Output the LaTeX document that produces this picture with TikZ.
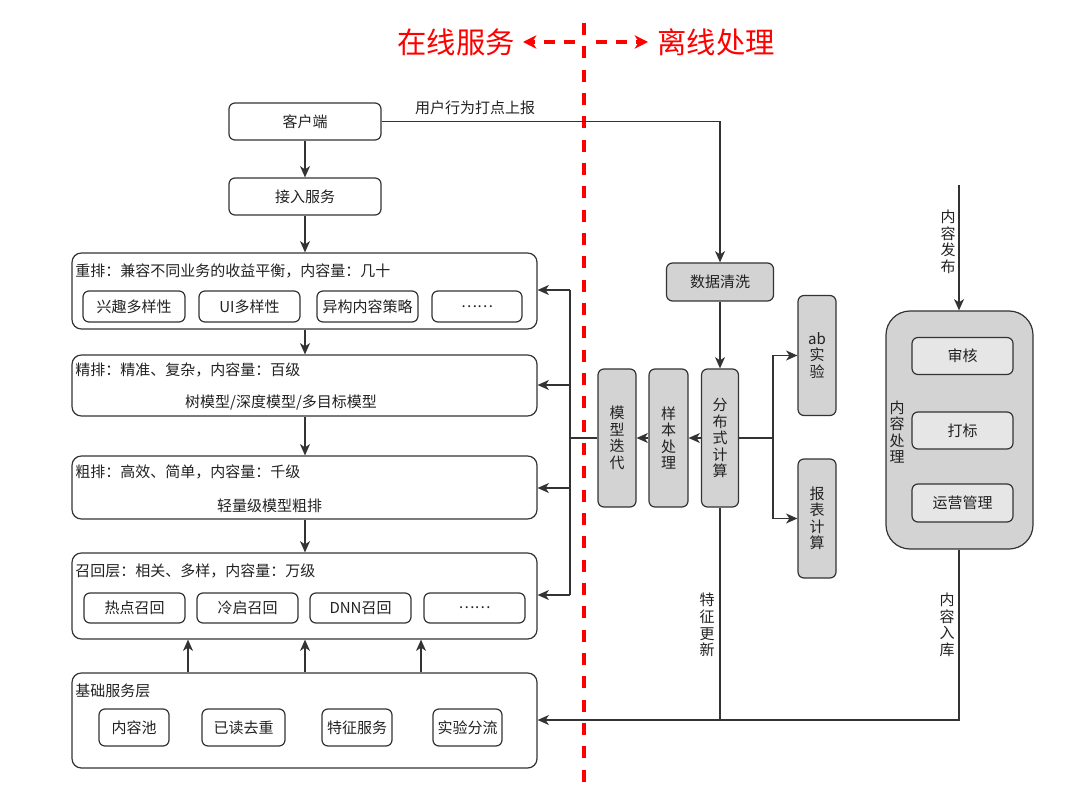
\documentclass[tikz,border=0pt]{standalone}
\usepackage{fontspec}
\setmainfont{Noto Sans CJK SC}
\usetikzlibrary{arrows.meta}
\definecolor{linec}{HTML}{333333}
\definecolor{grayf}{HTML}{D3D3D3}
\definecolor{lightf}{HTML}{E6E6E6}
\definecolor{redc}{HTML}{FF0000}
\definecolor{txtc}{HTML}{222222}
\begin{document}
\begin{tikzpicture}[x=0.75pt,y=-0.75pt,
  every node/.style={font=\fontsize{11.25}{12.4}\selectfont, text=txtc},
  sz/.style 2 args={minimum width=#1*0.75pt, minimum height=#2*0.75pt},
  box/.style={draw=linec, line width=0.9pt, rounded corners=4.5pt, fill=white, inner sep=0pt, align=center},
  bigbox/.style={box, rounded corners=7pt},
  gbox/.style={box, fill=grayf},
  lbox/.style={box, fill=lightf},
  arr/.style={draw=linec, line width=0.9pt, -{Stealth[length=8.5pt,width=7.5pt,inset=2.5pt]}},
  ln/.style={draw=linec, line width=0.9pt},
  vtxt/.style={align=center, inner sep=0pt},
  ttl/.style={anchor=west, inner sep=0pt},
  redarr/.style={draw=redc, line width=2.4pt, dash pattern=on 8pt off 7pt, -{Stealth[length=10pt,width=10pt,inset=3pt]}},
]
\useasboundingbox (0,0) rectangle (1080,787);

% titles
\node[text=redc, font=\fontsize{22}{26}\selectfont, inner sep=0pt] (online) at (456,42) {在线服务};
\node[text=redc, font=\fontsize{22}{26}\selectfont, inner sep=0pt] (offline) at (716,42) {离线处理};
\coordinate (ls) at (575,42); \coordinate (la) at (523,42);
\coordinate (rs) at (596,42); \coordinate (ra) at (648,42);
\draw[redarr] (ls) -- (la);
\draw[redarr] (rs) -- (ra);
\coordinate (dtop) at (584,23); \coordinate (dbot) at (584,787);
\draw[draw=redc, line width=2.4pt, dash pattern=on 9pt off 8.5pt] (dtop) -- (dbot);

% online column
\node[box, sz={152}{37}] (client) at (305,121.5) {客户端};
\node[box, sz={152}{37}] (access) at (305,196.5) {接入服务};

\node[bigbox, sz={465}{76}] (rerank) at (304.5,291) {};
\node[ttl] (rerankT) at (75,271) {重排：兼容不同业务的收益平衡，内容量：几十};
\node[box, sz={102}{31}] (xq) at (134,306.5) {兴趣多样性};
\node[box, sz={101}{31}] (ui) at (249.5,306.5) {UI多样性};
\node[box, sz={101}{31}] (yg) at (367.5,306.5) {异构内容策略};
\node[box, sz={90}{31}] (dots1) at (477,306.5) {……};

\node[bigbox, sz={465}{61}] (fine) at (304.5,385.5) {};
\node[ttl] (fineT) at (75,370) {精排：精准、复杂，内容量：百级};
\node[inner sep=0pt] (fineS) at (281,403) {树模型/深度模型/多目标模型};

\node[bigbox, sz={465}{63}] (coarse) at (304.5,487.5) {};
\node[ttl] (coarseT) at (75,472) {粗排：高效、简单，内容量：千级};
\node[inner sep=0pt] (coarseS) at (269.5,506) {轻量级模型粗排};

\node[bigbox, sz={465}{86}] (recall) at (304.5,596) {};
\node[ttl] (recallT) at (75,571) {召回层：相关、多样，内容量：万级};
\node[box, sz={101}{30}] (rd) at (134.5,608) {热点召回};
\node[box, sz={101}{30}] (lq) at (247.5,608) {冷启召回};
\node[box, sz={101}{30}] (dnn) at (360.5,608) {DNN召回};
\node[box, sz={101}{30}] (dots2) at (474.5,608) {……};

\node[bigbox, sz={465}{95}] (base) at (304.5,720.5) {};
\node[ttl] (baseT) at (75,691) {基础服务层};
\node[box, sz={70}{37}] (ncc) at (134,727.5) {内容池};
\node[box, sz={83}{37}] (ydq) at (243.5,727.5) {已读去重};
\node[box, sz={70}{37}] (tzfw) at (357,727.5) {特征服务};
\node[box, sz={69}{37}] (syfl) at (467.5,727.5) {实验分流};

\coordinate (cx) at (305,0);
\coordinate (lx) at (188,0);
\coordinate (rx) at (421,0);
\draw[arr] (client.south) -- (access.north);
\draw[arr] (cx |- access.south) -- (cx |- rerank.north);
\draw[arr] (cx |- rerank.south) -- (cx |- fine.north);
\draw[arr] (cx |- fine.south) -- (cx |- coarse.north);
\draw[arr] (cx |- coarse.south) -- (cx |- recall.north);
\draw[arr] (lx |- base.north) -- (lx |- recall.south);
\draw[arr] (cx |- base.north) -- (cx |- recall.south);
\draw[arr] (rx |- base.north) -- (rx |- recall.south);

% offline middle
\node[gbox, sz={107}{38}] (clean) at (720,282) {数据清洗};
\node[gbox, sz={37}{138}] (dist) at (720,438) {分\\布\\式\\计\\算};
\node[gbox, sz={39}{138}] (samp) at (668.5,438) {样\\本\\处\\理};
\node[gbox, sz={38}{138}] (model) at (617,438) {模\\型\\迭\\代};
\node[gbox, sz={38}{120}] (ab) at (817,355.5) {ab\\实\\验};
\node[gbox, sz={38}{119}] (rep) at (817,518.5) {报\\表\\计\\算};

\node[inner sep=0pt] (lblU) at (475,108) {用户行为打点上报};
\draw[arr] (client.east) -- (client.east -| clean.north) -- (clean.north);
\draw[arr] (clean.south) -- (dist.north);
\draw[arr] (dist.west) -- (samp.east);
\draw[arr] (samp.west) -- (model.east);

\coordinate (br) at (773,438);
\draw[ln] (dist.east) -- (br);
\draw[ln] (br |- ab.west) -- (br |- rep.west);
\draw[arr] (br |- ab.west) -- (ab.west);
\draw[arr] (br |- rep.west) -- (rep.west);

% feedback to online layers
\coordinate (fbtop) at (570,290);
\coordinate (fb2) at (570,385);
\coordinate (fb3) at (570,488);
\coordinate (fbbot) at (570,595);
\draw[ln] (model.west) -- (model.west -| fbtop);
\draw[ln] (fbtop) -- (fbbot);
\draw[arr] (fbtop) -- (fbtop -| rerank.east);
\draw[arr] (fb2) -- (fb2 -| fine.east);
\draw[arr] (fb3) -- (fb3 -| coarse.east);
\draw[arr] (fbbot) -- (fbbot -| recall.east);

% content processing
\node[box, fill=grayf, rounded corners=18pt, sz={147}{238}] (cp) at (959.5,430) {};
\node[lbox, sz={101}{37}] (sh) at (962.5,356) {审核};
\node[lbox, sz={101}{37}] (db) at (962.5,430.5) {打标};
\node[lbox, sz={101}{38}] (yy) at (962.5,503) {运营管理};
\node[vtxt] (cpL) at (897,432) {内\\容\\处\\理};

\coordinate (pubsrc) at (959,185);
\draw[arr] (pubsrc) -- (pubsrc |- cp.north);
\node[vtxt] (pubL) at (948,242) {内\\容\\发\\布};

\coordinate (join) at (720,720);
\draw[ln] (dist.south) -- (join);
\draw[ln] (pubsrc |- cp.south) -- (pubsrc |- join) -- (join);
\draw[arr] (join) -- (join -| base.east);
\node[vtxt] (featL) at (707,625) {特\\征\\更\\新};
\node[vtxt] (inL) at (947,625) {内\\容\\入\\库};
\end{tikzpicture}
\end{document}
